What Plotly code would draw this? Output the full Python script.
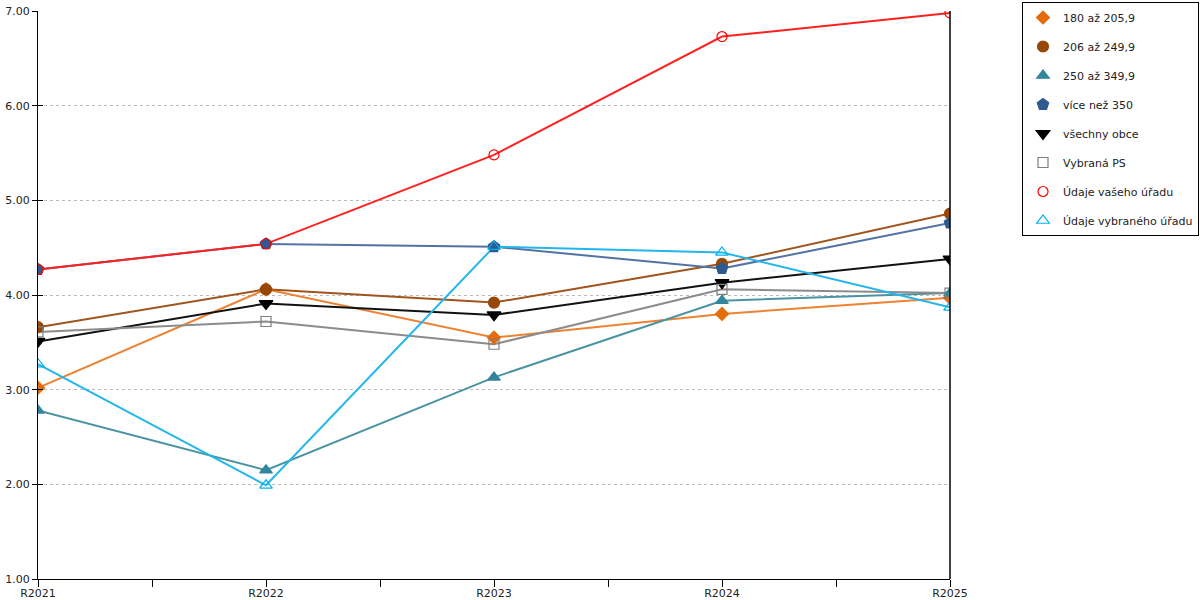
import plotly.graph_objects as go

# data
years = ["R2021", "R2022", "R2023", "R2024", "R2025"]
y_180_205 = [3.02, 4.06, 3.55, 3.80, 3.97]
y_206_249 = [3.66, 4.06, 3.92, 4.33, 4.86]
y_250_349 = [2.78, 2.15, 3.13, 3.94, 4.02]
y_350_plus = [4.27, 4.54, 4.51, 4.28, 4.76]
y_all = [3.51, 3.91, 3.79, 4.13, 4.38]
y_selected_ps = [3.61, 3.72, 3.48, 4.06, 4.02]
y_your_office = [4.27, 4.54, 5.48, 6.73, 6.98]
y_selected_office = [3.27, 1.99, 4.51, 4.45, 3.87]

series = [
    ("180 až 205,9", y_180_205, "#EE8233", "#E46C0A", "diamond", 10),
    ("206 až 249,9", y_206_249, "#A0541C", "#974806", "circle", 11),
    ("250 až 349,9", y_250_349, "#4A93A3", "#31859C", "triangle-up", 11),
    ("více než 350", y_350_plus, "#5373A3", "#2F5A8F", "pentagon", 12),
    ("všechny obce", y_all, "#111111", "#000000", "triangle-down", 12),
    ("Vybraná PS", y_selected_ps, "#8C8C8C", "#7F7F7F", "square-open", 10),
    ("Údaje vašeho úřadu", y_your_office, "#FF2020", "#FF0000", "circle-open", 10),
    ("Údaje vybraného úřadu", y_selected_office, "#22B6EC", "#00B0F0", "triangle-up-open", 11),
]

xs = list(range(len(years)))
fig = go.Figure()
# lines first (no legend), then markers that also make the legend entries
for i, (name, vals, lc, mc, sym, sz) in enumerate(series):
    fig.add_trace(go.Scatter(x=xs, y=vals, mode="lines", line=dict(color=lc, width=2),
                             showlegend=False, hoverinfo="skip"))
for i, (name, vals, lc, mc, sym, sz) in enumerate(series):
    fig.add_trace(go.Scatter(
        x=xs, y=vals, name=name, mode="markers",
        marker=dict(color=mc, symbol=sym, size=sz, line=dict(color=mc, width=1.2)),
        legendgroup=f"g{i}",
    ))

# invisible trace on yaxis2 just to get the inner half of the y ticks
fig.add_trace(go.Scatter(x=[0], y=[1], yaxis="y2", showlegend=False,
                         mode="markers", marker=dict(opacity=0), hoverinfo="skip"))

tickvals = [i * 0.5 for i in range(2 * len(years) - 1)]
ticktext = [years[int(v)] if v == int(v) else "" for v in tickvals]

fig.update_layout(
    width=1200, height=600,
    margin=dict(l=38, r=250, t=11, b=21, autoexpand=False),
    paper_bgcolor="white", plot_bgcolor="white",
    font=dict(family="DejaVu Sans", size=11, color="#222222"),
    showlegend=True,
    legend=dict(
        x=(1022 - 38) / 912, y=1 + 9 / 568, xanchor="left", yanchor="top",
        bordercolor="#000000", borderwidth=1, bgcolor="white",
        traceorder="grouped", tracegroupgap=10,
        font=dict(size=11, color="#222222"),
    ),
    xaxis=dict(
        range=[0, 4], tickvals=tickvals, ticktext=ticktext, automargin=False,
        showgrid=False, zeroline=False, showline=True, linecolor="black", linewidth=1,
        ticks="outside", ticklen=7, tickcolor="black", ticklabelstandoff=-3,
    ),
    yaxis=dict(
        range=[1, 7], dtick=1, tickformat=".2f", automargin=False,
        showgrid=True, gridcolor="#BBBBBB", griddash="3px,3px", gridwidth=1,
        zeroline=False, showline=True, linecolor="black", linewidth=1,
        ticks="outside", ticklen=5, tickcolor="black",
    ),
    yaxis2=dict(
        range=[1, 7], dtick=1, overlaying="y", side="left", automargin=False,
        showgrid=False, zeroline=False, showline=False, showticklabels=False,
        ticks="inside", ticklen=5, tickcolor="black",
    ),
    shapes=[dict(type="line", xref="paper", yref="paper", x0=1, x1=1, y0=0, y1=1,
                 line=dict(color="black", width=1.5))],
)

# drop the default 8px page margin so the figure sits at the window's corner
fig.write_html("out.html", config={"displayModeBar": False},
               post_script="document.body.style.margin='0';")
